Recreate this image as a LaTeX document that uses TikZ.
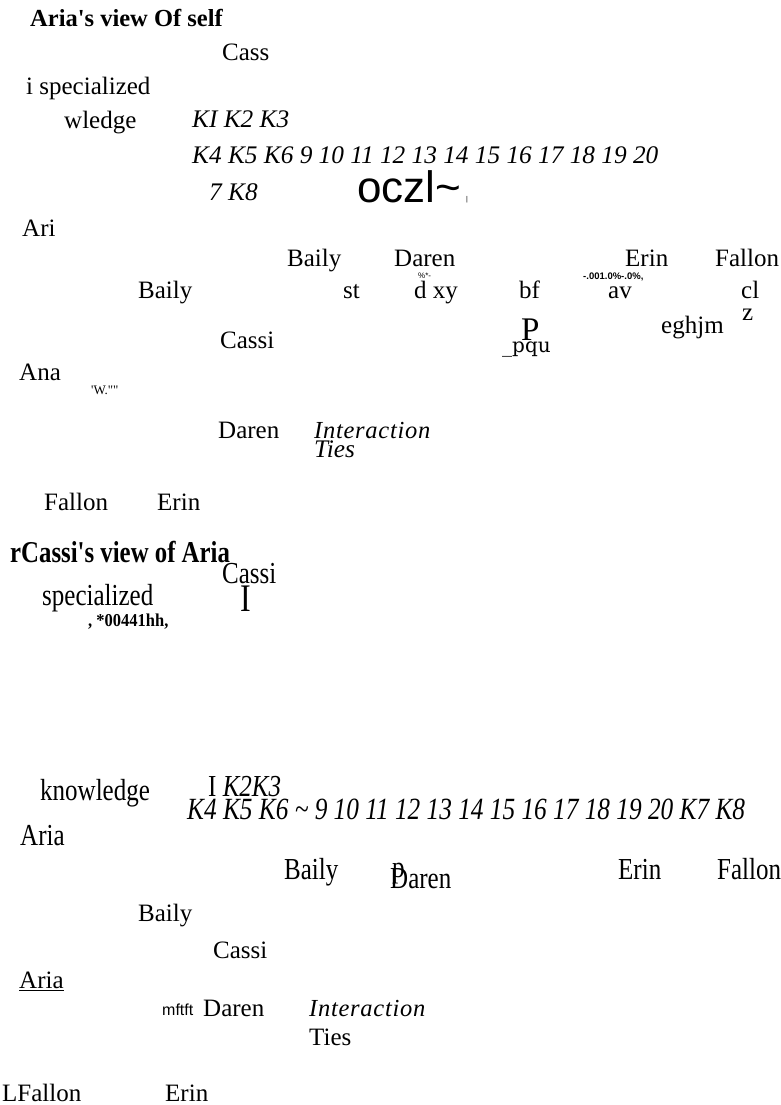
\documentclass[tikz,border=0pt]{standalone}
\usepackage{fontspec}
\setmainfont{Liberation Serif}
\newfontfamily\sansfont{Liberation Sans}
\newfontfamily\altserif{DejaVu Serif}
% vertically stretched lettering used in the second panel
\newcommand{\tallpr}[1]{\scalebox{1}[1.22]{#1}}
\begin{document}
\begin{tikzpicture}[x=1pt,y=-1pt,
  lbl/.style={inner sep=0pt, anchor=west, text height=17pt, text depth=0pt,
    font=\fontsize{25}{28}\selectfont},
  tall/.style={lbl, text height=20pt},
  bld/.style={lbl, font=\bfseries\fontsize{24.5}{28}\selectfont},
  itl/.style={lbl, font=\itshape\fontsize{25.3}{28}\selectfont},
  spaced/.style={lbl, font=\itshape\fontsize{24.5}{28}\selectfont\addfontfeature{LetterSpace=3}},
  tiny/.style={lbl, text height=5.5pt, font=\sansfont\fontsize{8}{9}\selectfont},
  tinybold/.style={lbl, text height=6.5pt, font=\sansfont\bfseries\fontsize{9.5}{11}\selectfont},
]
\fill[white] (0,0) rectangle (781,1105);
\useasboundingbox (0,0) rectangle (781,1105);

% ---------- first panel ----------
\node[bld] (title1) at (30,18) {Aria\textquotesingle s view Of self};
\node[lbl] (cass) at (222,52) {Cass};
\node[lbl] (spec1) at (26,86) {i specialized};
\node[lbl] (wledge) at (64,120) {wledge};
\node[itl] (ka) at (192,119) {KI K2 K3};
\node[itl] (kb) at (192,155) {K4 K5 K6 9 10 11 12 13 14 15 16 17 18 19 20};
\node[itl] (kc) at (209,192) {7 K8};
\node[lbl, text height=29pt, font=\sansfont\fontsize{44}{46}\selectfont] (oczl) at (357,188) {oczl\textasciitilde};
\node[lbl, text height=5pt, font=\sansfont\fontsize{7}{8}\selectfont] (tick) at (466,199) {|};
\node[lbl] (ari) at (22,228) {Ari};

\node[lbl] (bailyA) at (287,258) {Baily};
\node[lbl] (darenA) at (394,258) {Daren};
\node[lbl] (erinA) at (625,258) {Erin};
\node[lbl] (fallonA) at (715,258) {Fallon};
\node[tiny] (pctA) at (418,276) {\%*-};
\node[tinybold] (pctB) at (583,276) {-.001.0\%-.0\%,};

\node[lbl] (bailyB) at (138,290) {Baily};
\node[lbl] (st) at (343,290) {st};
\node[lbl] (dxy) at (414,290) {d xy};
\node[lbl] (bf) at (519,290) {bf};
\node[lbl] (av) at (608,290) {av};
\node[lbl] (cl) at (741,290) {cl};
\node[lbl] (z) at (742,312) {z};
\node[lbl, text height=22pt, font=\fontsize{33}{36}\selectfont] (bigP) at (521,329) {P};
\node[lbl] (eghjm) at (661,325) {eghjm};
\node[lbl] (cassiA) at (220,340) {Cassi};
\node[lbl, text height=12pt, font=\altserif\fontsize{20}{24}\selectfont] (pqu) at (502,346) {\_pqu};
\node[lbl] (ana) at (19,372) {Ana};
\node[lbl, text height=9pt, font=\fontsize{13}{15}\selectfont] (wq) at (91,390)
  {\textquotesingle W.\textquotedbl\textquotedbl};
\node[lbl] (darenB) at (218,430) {Daren};
\node[spaced] (interA) at (314,430) {Interaction};
\node[itl] (tiesA) at (314,449) {Ties};
\node[lbl] (fallonB) at (44,502) {Fallon};
\node[lbl] (erinB) at (157,502) {Erin};

% ---------- second panel ----------
\node[tall, font=\bfseries\fontsize{24.8}{28}\selectfont] (title2) at (10,552) {\tallpr{rCassi\textquotesingle s view of Aria}};
\node[tall] (cassiB) at (222,573) {\tallpr{Cassi}};
\node[tall] (spec2) at (42,595) {\tallpr{specialized}};
\node[tall, text height=26pt, font=\fontsize{32}{34}\selectfont] (bigI) at (240,598) {\tallpr{I}};
\node[tall, text height=12pt, font=\bfseries\fontsize{16.5}{18}\selectfont] (hh) at (88,620)
  {\scalebox{1}[1.1]{, *00441hh,}};

\node[tall] (know) at (40,790) {\tallpr{knowledge}};
\node[tall] (kd) at (208,786) {\tallpr{I \textit{K2K3}}};
\node[tall, font=\itshape\fontsize{25.3}{28}\selectfont] (ke) at (187,809)
  {\tallpr{K4 K5 K6 \textasciitilde\ 9 10 11 12 13 14 15 16 17 18 19 20 K7 K8}};
\node[tall] (ariaB) at (20,835) {\tallpr{Aria}};

\node[tall] (bailyC) at (284,869) {\tallpr{Baily}};
\node[tall] (darenC) at (390,878) {\tallpr{\rlap{\hspace{2pt}\raisebox{9pt}{p}}Daren}};
\node[tall] (erinC) at (618,869) {\tallpr{Erin}};
\node[tall] (fallonC) at (717,869) {\tallpr{Fallon}};

\node[lbl] (bailyD) at (138,913) {Baily};
\node[lbl] (cassiC) at (213,950) {Cassi};
\node[lbl] (ariaC) at (19,980) {\underline{Aria}};
\node[lbl, text height=11pt, font=\sansfont\fontsize{16}{18}\selectfont] (mftft) at (162,1010) {mftft};
\node[lbl] (darenD) at (203,1008) {Daren};
\node[spaced] (interB) at (309,1008) {Interaction};
\node[lbl] (tiesB) at (309,1037) {Ties};
\node[lbl] (lfallon) at (2,1093) {LFallon};
\node[lbl] (erinD) at (165,1093) {Erin};
\end{tikzpicture}
\end{document}
